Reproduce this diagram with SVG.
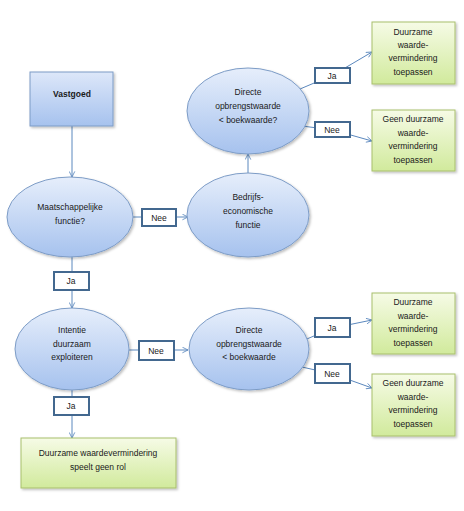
<svg xmlns="http://www.w3.org/2000/svg" width="464" height="511" viewBox="0 0 464 511">
<style>
text{font-family:"Liberation Sans",Arial,sans-serif;font-size:8.5px;fill:#1a1a1a;text-anchor:middle}
.b{font-weight:bold}
.ell{fill:url(#gb);stroke:#7d9cc6;stroke-width:1}
.vb{fill:url(#gb2);stroke:#7d9cc6;stroke-width:1}
.grn{fill:url(#gg);stroke:#a8bf6c;stroke-width:1}
.lab{fill:#fff;stroke:#43688f;stroke-width:2}
.con{fill:none;stroke:#5b88be;stroke-width:1}
.arr{fill:none;stroke:#5b88be;stroke-width:1;marker-end:url(#ah)}
</style>
<defs>
<linearGradient id="gb" x1="0" y1="0" x2="0" y2="1"><stop offset="0" stop-color="#e6eefb"/><stop offset="1" stop-color="#a6c2ee"/></linearGradient>
<linearGradient id="gb2" x1="0" y1="0" x2="0" y2="1"><stop offset="0" stop-color="#dde7f9"/><stop offset="1" stop-color="#a6c2ee"/></linearGradient>
<linearGradient id="gg" x1="0" y1="0" x2="0" y2="1"><stop offset="0" stop-color="#f6fbe6"/><stop offset="1" stop-color="#d1ea9c"/></linearGradient>
<filter id="sh" x="-10%" y="-10%" width="130%" height="130%"><feDropShadow dx="1.5" dy="1.5" stdDeviation="1" flood-color="#000" flood-opacity="0.25"/></filter>
<marker id="ah" viewBox="0 0 10 10" refX="9" refY="5" markerWidth="7" markerHeight="7" orient="auto-start-reverse"><path d="M1,1 L9,5 L1,9" fill="none" stroke="#5b88be" stroke-width="1.2"/></marker>
</defs>
<g id="connectors">
<line class="arr" x1="72" y1="126" x2="72" y2="177"/>
<line class="con" x1="133" y1="217" x2="142" y2="217"/>
<line class="arr" x1="176" y1="217" x2="188" y2="217"/>
<line class="arr" x1="248" y1="173" x2="248" y2="154"/>
<polyline class="arr" points="300,89 333,75 372,52"/>
<polyline class="arr" points="302,126 333,130 372,141"/>
<line class="con" x1="72" y1="256" x2="72" y2="272"/>
<line class="arr" x1="72" y1="290" x2="72" y2="308"/>
<line class="con" x1="129" y1="350" x2="139" y2="350"/>
<line class="arr" x1="174" y1="350" x2="188" y2="350"/>
<line class="con" x1="72" y1="390" x2="72" y2="397"/>
<line class="arr" x1="72" y1="415" x2="72" y2="438"/>
<polyline class="arr" points="302,341 333,328 372,320"/>
<polyline class="arr" points="302,367 333,374 372,388"/>
</g>
<g id="vastgoed"><rect class="vb" x="30" y="72" width="83" height="54" filter="url(#sh)"/><text class="b" x="72" y="97">Vastgoed</text></g>
<g id="maatschappelijk"><ellipse class="ell" cx="70" cy="217" rx="63" ry="40" filter="url(#sh)"/><text x="70" y="210">Maatschappelijke</text><text x="70" y="224">functie?</text></g>
<g id="bedrijfs"><ellipse class="ell" cx="248" cy="215" rx="61" ry="42" filter="url(#sh)"/><text x="248" y="200">Bedrijfs-</text><text x="248" y="214">economische</text><text x="248" y="228">functie</text></g>
<g id="directe1"><ellipse class="ell" cx="248" cy="111" rx="61" ry="43" filter="url(#sh)"/><text x="248" y="95">Directe</text><text x="248" y="109">opbrengstwaarde</text><text x="248" y="123">&lt; boekwaarde?</text></g>
<g id="intentie"><ellipse class="ell" cx="72" cy="349" rx="57" ry="41" filter="url(#sh)"/><text x="72" y="333">Intentie</text><text x="72" y="347">duurzaam</text><text x="72" y="360">exploiteren</text></g>
<g id="directe2"><ellipse class="ell" cx="249" cy="349" rx="60" ry="41" filter="url(#sh)"/><text x="249" y="333">Directe</text><text x="249" y="347">opbrengstwaarde</text><text x="249" y="360">&lt; boekwaarde</text></g>
<g id="groen1"><rect class="grn" x="372" y="22" width="83" height="62" filter="url(#sh)"/><text x="413" y="35">Duurzame</text><text x="413" y="48">waarde-</text><text x="413" y="61">vermindering</text><text x="413" y="75">toepassen</text></g>
<g id="groen2"><rect class="grn" x="372" y="110" width="83" height="61" filter="url(#sh)"/><text x="413" y="122">Geen duurzame</text><text x="413" y="136">waarde-</text><text x="413" y="149">vermindering</text><text x="413" y="163">toepassen</text></g>
<g id="groen3"><rect class="grn" x="372" y="293" width="83" height="61" filter="url(#sh)"/><text x="413" y="305">Duurzame</text><text x="413" y="319">waarde-</text><text x="413" y="332">vermindering</text><text x="413" y="346">toepassen</text></g>
<g id="groen4"><rect class="grn" x="372" y="374" width="83" height="62" filter="url(#sh)"/><text x="413" y="386">Geen duurzame</text><text x="413" y="400">waarde-</text><text x="413" y="413">vermindering</text><text x="413" y="427">toepassen</text></g>
<g id="groen5"><rect class="grn" x="21" y="438" width="155" height="50" filter="url(#sh)"/><text x="98" y="456">Duurzame waardevermindering</text><text x="98" y="470">speelt geen rol</text></g>
<g id="lab-nee1"><rect class="lab" x="142" y="209" width="34" height="17"/><text x="159" y="221">Nee</text></g>
<g id="lab-ja1"><rect class="lab" x="315" y="68" width="35" height="15"/><text x="332" y="79">Ja</text></g>
<g id="lab-nee2"><rect class="lab" x="315" y="122" width="35" height="15"/><text x="332" y="133">Nee</text></g>
<g id="lab-ja2"><rect class="lab" x="54" y="272" width="35" height="18"/><text x="71" y="284">Ja</text></g>
<g id="lab-nee3"><rect class="lab" x="139" y="341" width="35" height="19"/><text x="156" y="354">Nee</text></g>
<g id="lab-ja3"><rect class="lab" x="54" y="397" width="35" height="18"/><text x="71" y="409">Ja</text></g>
<g id="lab-ja4"><rect class="lab" x="315" y="318" width="35" height="19"/><text x="332" y="331">Ja</text></g>
<g id="lab-nee4"><rect class="lab" x="315" y="364" width="35" height="19"/><text x="332" y="377">Nee</text></g>
</svg>
